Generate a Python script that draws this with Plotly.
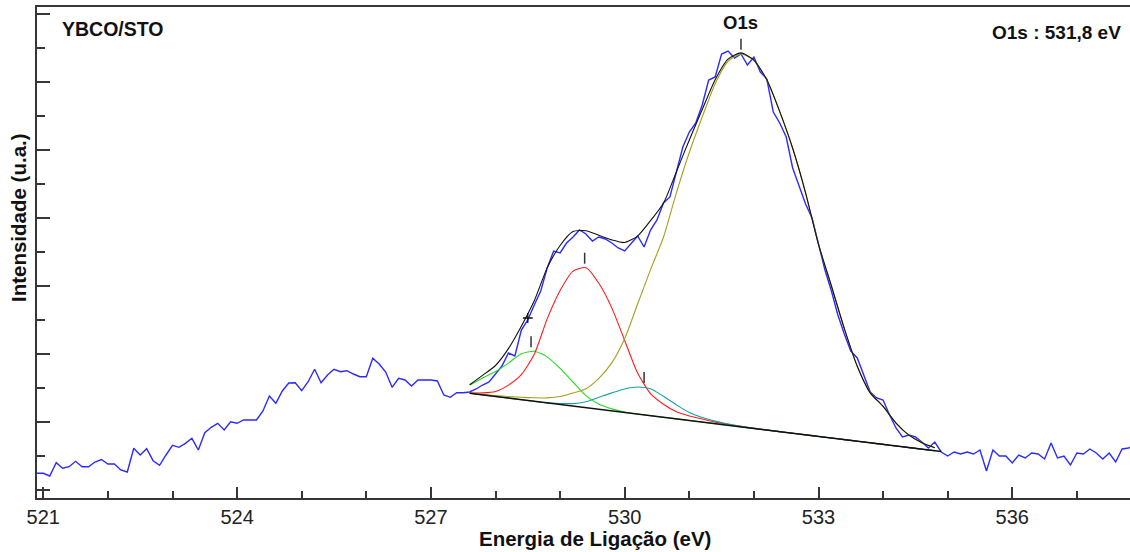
import numpy as np
import plotly.graph_objects as go

# ---- measured O1s spectrum (binding energy in eV, intensity in arbitrary units) ----
energy = np.round(np.arange(520.9, 537.95, 0.1), 1)
intensity = [
    16.7, 16.7, 14, 27.3, 21.7, 23.3, 28.7, 23.3, 23.3, 28,
    30.5, 26, 26, 20, 18, 41.7, 35, 41.3, 29.3, 24.7,
    35, 44.7, 42.7, 46.7, 51.7, 40, 57.3, 62.7, 66.7, 60,
    68.3, 66.7, 70, 70, 70, 79, 94, 86.7, 99, 107,
    107.3, 99.3, 108.3, 120.7, 107.3, 115, 120.7, 118.3, 119.3, 116,
    113.3, 113.3, 131.7, 126, 118, 102.7, 111.7, 110, 104, 110,
    110, 110, 109, 95, 92.7, 97.3, 97.3, 98, 101, 105,
    108, 116, 124, 137, 134, 160, 170, 185, 199, 222,
    239, 237, 247, 253, 260, 256, 249, 253, 251, 247,
    242, 239, 247, 254, 243, 260, 270, 287, 293, 317,
    343, 358, 367, 385, 410, 413, 436, 439, 432, 436,
    425, 433, 418, 411, 378, 367, 353, 322, 305, 286,
    272, 245, 220, 199, 175, 156, 139, 132, 115, 98,
    92, 90, 75, 62, 53, 55, 53, 48, 42, 48,
    38, 34, 38, 36, 38, 36, 40, 19, 40, 34,
    34, 27, 35, 32, 37, 36, 31, 47, 32, 34,
    25, 37, 36, 41, 37, 31, 37, 28, 41, 42,
    45,
]

# ---- fit: linear background + four components (height above background) ----
bg_energy = [527.6, 534.9]
bg_intensity = [96.7, 38.4]

fit_energy = np.round(np.arange(527.6, 534.85, 0.2), 1)
comp_green = [8, 17, 25, 35, 46, 50, 46, 36, 24, 12, 5, 2, 0.5] + [0] * 24
comp_red = [0.5, 2, 5, 13, 25, 47, 84, 114, 135, 140, 126, 103, 72, 41, 22, 13,
            7, 4.5, 3, 1.5, 1, 0.5, 0.3, 0.2] + [0] * 13
comp_teal = [0] * 7 + [1, 2.5, 6, 12, 18, 23.5, 27, 27, 21, 14, 8, 4.5, 2.5, 1.2,
                       0.5] + [0] * 15
comp_olive = [0, 0.5, 1, 1.5, 2.5, 3.5, 5, 8, 13, 19, 31, 48, 74, 110, 146, 180,
              226, 268, 305, 340, 364, 373, 368, 350, 320, 285, 242, 192, 152,
              111, 75, 50, 38, 23, 12.5, 6.5, 3]

# peak positions (eV) of the components, in the same order
peak_centers = [528.55, 529.38, 530.3, 531.8]
o1s_center = peak_centers[3]

# cursor mark on the spectrum
cursor_energy = [528.5]
cursor_intensity = [172]

components = [
    ("green", comp_green, "#22dd22"),
    ("red", comp_red, "#ff1a1a"),
    ("teal", comp_teal, "#1a9e9e"),
    ("olive", comp_olive, "#a3a01e"),
]

background = np.interp(fit_energy, bg_energy, bg_intensity)
envelope = background + np.sum([np.array(c[1], dtype=float) for c in components], axis=0)

FONT = "Liberation Sans, Arial, sans-serif"
AXIS_COLOR = "#363636"

fig = go.Figure()

# spectrum
fig.add_trace(go.Scatter(
    x=energy, y=intensity, mode="lines",
    line=dict(color="#2b2bff", width=1.4), hoverinfo="skip", showlegend=False,
))

# components
for name, comp, color in components:
    fig.add_trace(go.Scatter(
        x=fit_energy, y=background + np.array(comp, dtype=float), mode="lines",
        line=dict(color=color, width=1.1, shape="spline", smoothing=0.6),
        name=name, hoverinfo="skip", showlegend=False,
    ))

# background and envelope
fig.add_trace(go.Scatter(
    x=bg_energy, y=bg_intensity, mode="lines",
    line=dict(color="#111111", width=1.5), hoverinfo="skip", showlegend=False,
))
fig.add_trace(go.Scatter(
    x=fit_energy, y=envelope, mode="lines",
    line=dict(color="#111111", width=1.1, shape="spline", smoothing=0.6),
    hoverinfo="skip", showlegend=False,
))

# small vertical markers above each component maximum
mark_x, mark_y = [], []
for (name, comp, color), xc in zip(components, peak_centers):
    top = float(np.max(background + np.array(comp, dtype=float)))
    mark_x += [xc, xc, None]
    mark_y += [top + 4, top + 15, None]
fig.add_trace(go.Scatter(
    x=mark_x, y=mark_y, mode="lines",
    line=dict(color="#333333", width=1.5), hoverinfo="skip", showlegend=False,
))

fig.add_trace(go.Scatter(
    x=cursor_energy, y=cursor_intensity, mode="markers",
    marker=dict(symbol="cross-thin", size=7, line=dict(color="#111111", width=1.3)),
    hoverinfo="skip", showlegend=False,
))

W, H = 1130, 552
L, R, T, B = 37, 0, 7, 54
pw, ph = W - L - R, H - T - B


def px(xp):
    return (xp - L) / pw


def py(yp):
    return (H - B - yp) / ph


annotations = [
    dict(text="<b>YBCO/STO</b>", x=px(60), y=py(29), xanchor="left", yanchor="middle",
         font=dict(size=19.5, color="#111")),
    dict(text="<b>O1s</b>", x=o1s_center, xref="x", y=py(23), xanchor="center",
         yanchor="middle", font=dict(size=18.5, color="#111")),
    dict(text="<b>O1s : " + f"{o1s_center:.1f}".replace(".", ",") + " eV</b>",
         x=px(1123), y=py(33), xanchor="right", yanchor="middle",
         font=dict(size=19, color="#111")),
    dict(text="<b>Energia de Ligação (eV)</b>", x=px(595), y=py(538), xanchor="center",
         yanchor="middle", font=dict(size=20.5, color="#111")),
    dict(text="<b>Intensidade (u.a.)</b>", x=px(18), y=py(218), xanchor="center",
         yanchor="middle", textangle=-90, font=dict(size=20.5, color="#111")),
]
for a in annotations:
    a.setdefault("xref", "paper")
    a["yref"] = "paper"
    a["showarrow"] = False

fig.update_layout(
    width=W, height=H,
    margin=dict(l=L, r=R, t=T, b=B, pad=0),
    paper_bgcolor="white", plot_bgcolor="white",
    font=dict(family=FONT, color="#222"),
    annotations=annotations,
    xaxis=dict(
        range=[520.9025, 537.822], showgrid=False, zeroline=False,
        showline=True, linecolor=AXIS_COLOR, linewidth=2, mirror=True,
        ticks="inside", tick0=521, dtick=3, ticklen=11, tickwidth=2, tickcolor=AXIS_COLOR,
        minor=dict(ticks="inside", dtick=1, tick0=521, ticklen=7, tickwidth=2,
                   tickcolor=AXIS_COLOR, showgrid=False),
        tickfont=dict(size=20, color="#222", family=FONT),
    ),
    yaxis=dict(
        range=[-8, 483], showgrid=False, zeroline=False,
        showline=True, linecolor=AXIS_COLOR, linewidth=2,
        ticks="inside", tick0=0, dtick=68, ticklen=13, tickwidth=2, tickcolor=AXIS_COLOR,
        minor=dict(ticks="inside", dtick=34, tick0=0, ticklen=8, tickwidth=2,
                   tickcolor=AXIS_COLOR, showgrid=False),
        showticklabels=False,
    ),
)

fig.write_html("out.html")
